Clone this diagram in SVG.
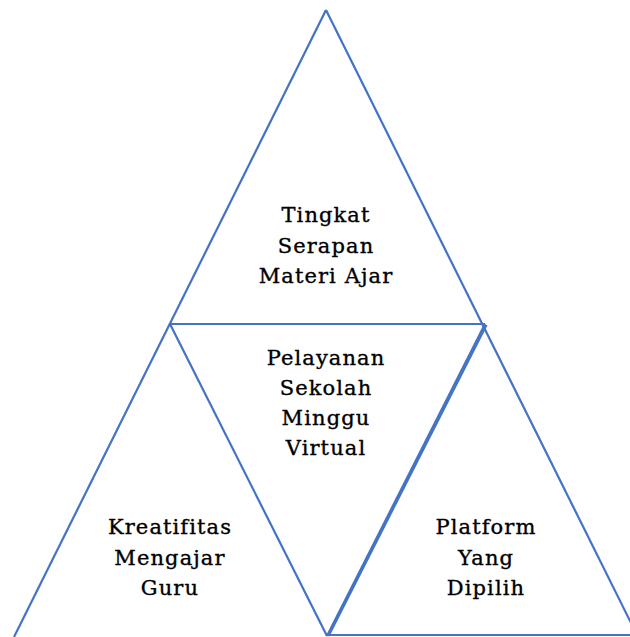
<svg xmlns="http://www.w3.org/2000/svg" width="630" height="637" viewBox="0 0 630 637">
<style>
.ln{stroke:#4472C4;stroke-width:2.2;fill:none}
.t{font-family:"DejaVu Serif","Liberation Serif",serif;font-size:21px;fill:#000;stroke:#000;stroke-width:0.35;text-anchor:middle;letter-spacing:1.1px}
</style>
<rect width="630" height="637" fill="#fff"/>
<g id="connectors">
<line class="ln" x1="326" y1="10" x2="14" y2="637"/>
<line class="ln" x1="326" y1="10" x2="642" y2="645"/>
<line class="ln" x1="170" y1="324" x2="485" y2="324"/>
<line class="ln" x1="170" y1="324" x2="327" y2="636"/>
<line class="ln" x1="485" y1="324" x2="327" y2="636"/>
<line class="ln" x1="486.5" y1="325" x2="328.5" y2="636"/>
<line class="ln" x1="327" y1="635" x2="630" y2="635"/>
</g>
<g id="top">
<text class="t" x="326" y="222">Tingkat</text>
<text class="t" x="326" y="253">Serapan</text>
<text class="t" x="326" y="283">Materi Ajar</text>
</g>
<g id="middle">
<text class="t" x="326" y="365">Pelayanan</text>
<text class="t" x="326" y="395">Sekolah</text>
<text class="t" x="326" y="425">Minggu</text>
<text class="t" x="326" y="455">Virtual</text>
</g>
<g id="left">
<text class="t" x="170" y="534">Kreatifitas</text>
<text class="t" x="170" y="565">Mengajar</text>
<text class="t" x="170" y="595">Guru</text>
</g>
<g id="right">
<text class="t" x="486" y="534">Platform</text>
<text class="t" x="486" y="565">Yang</text>
<text class="t" x="486" y="595">Dipilih</text>
</g>
</svg>
